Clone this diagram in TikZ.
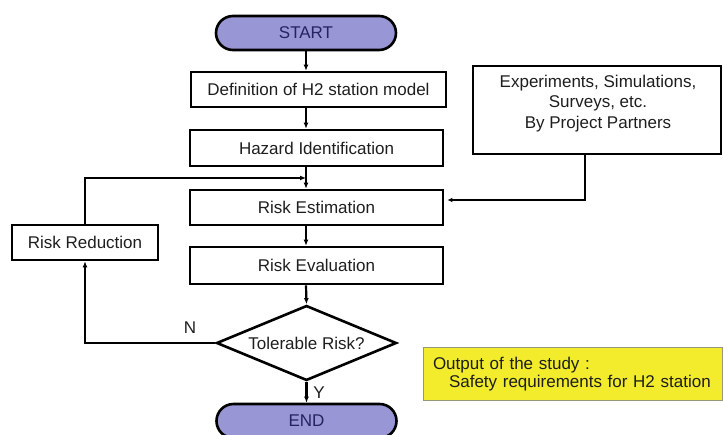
\documentclass[tikz,border=0pt]{standalone}
\usepackage{fontspec}
\setmainfont{Liberation Sans}
\usetikzlibrary{shapes.geometric,shapes.misc,arrows.meta}
\definecolor{termfill}{RGB}{152,150,212}
\definecolor{termtext}{RGB}{36,36,96}
\definecolor{outfill}{RGB}{242,236,44}
\definecolor{txt}{RGB}{30,30,30}
\tikzset{
  boxbase/.style={draw=black, line width=2.6pt, text=txt, font=\fontsize{17}{19}\selectfont},
  stepbox/.style={boxbase, rectangle, inner sep=0pt},
  termbox/.style={boxbase, rounded rectangle, fill=termfill, text=termtext, inner sep=0pt, minimum width=180pt, minimum height=34pt},
  decbox/.style={boxbase, diamond, aspect=2.4, inner sep=0pt, minimum width=180pt, minimum height=75pt},
  flow/.style={draw=black, line width=2.2pt, -{Latex[length=6pt,width=5pt]}},
  thinflow/.style={draw=black, line width=1.6pt, -{Latex[length=5pt,width=4.5pt]}},
  lbl/.style={text=txt, font=\fontsize{17}{19}\selectfont, inner sep=0pt},
}
\begin{document}
\begin{tikzpicture}[x=1pt,y=-1pt]
\useasboundingbox (0,0) rectangle (723,435);
\coordinate (axis) at (306,0);
\node[termbox] (start) at (306,33) {START};
\node[stepbox, minimum width=255pt, minimum height=35pt] (def) at (318.5,89.5) {Definition of H2 station model};
\node[stepbox, minimum width=253pt, minimum height=36pt] (haz) at (316.5,148) {Hazard Identification};
\node[stepbox, minimum width=253pt, minimum height=35pt] (est) at (316.5,207.5) {Risk Estimation};
\node[stepbox, minimum width=253pt, minimum height=37pt] (evl) at (316.5,265.5) {Risk Evaluation};
\node[stepbox, minimum width=146pt, minimum height=35pt] (rr) at (85,242.5) {Risk Reduction};
\node[decbox] (dia) at (306.5,343) {Tolerable Risk?};
\node[termbox, minimum height=34pt] (end) at (306.5,421) {END};
\node[stepbox, minimum width=248pt, minimum height=88pt] (exp) at (597,110) {};
\node[lbl, align=center, font=\fontsize{17}{20.5}\selectfont] (exptext) at (598,103.5) {Experiments, Simulations,\\Surveys, etc.\\By Project Partners};
\node[draw={rgb,255:red,150;green,150;blue,120}, line width=1pt, fill=outfill, text=txt,
      font=\fontsize{17}{18}\selectfont, align=left, text width=281pt, inner xsep=9pt, inner ysep=0pt,
      minimum height=53pt] (out) at (572.5,374.5) {\mbox{\hspace*{1pt}Output of the study :}\\\mbox{\hspace*{17pt}Safety requirements for H2 station}};
% main flow
\draw[flow] (start.south -| axis) -- (def.north -| axis);
\draw[flow] (def.south -| axis) -- (haz.north -| axis);
\draw[flow] (haz.south -| axis) -- (est.north -| axis);
\draw[flow] (est.south -| axis) -- (evl.north -| axis);
\draw[flow] (evl.south -| axis) -- (dia.north);
\draw[flow] (dia.south) -- (end.north);
% feedback loop
\coordinate (fb) at (306,178);
\draw[flow] (rr.north) |- (fb);
\draw[flow] (dia.west) -| (rr.south);
% input from partners
\coordinate (ej) at (585,200);
\draw[thinflow] (exp.south -| ej) -- (ej) -- ([xshift=3pt]ej -| est.east);
% labels
\node[lbl] (nlab) at (190,328) {N};
\node[lbl] (ylab) at (319,393) {Y};
\end{tikzpicture}
\end{document}
